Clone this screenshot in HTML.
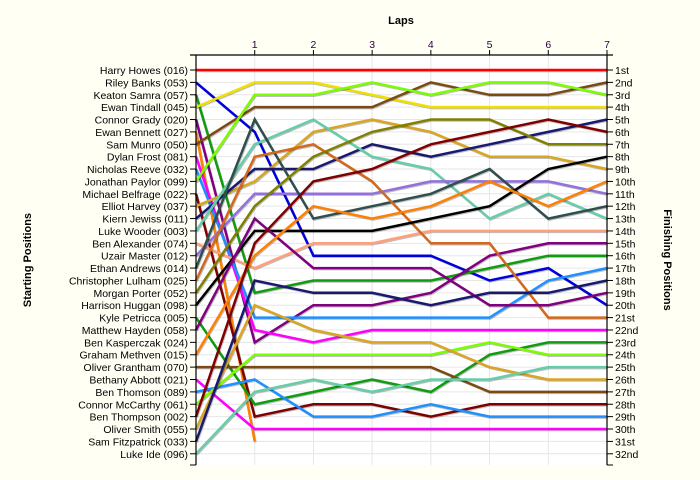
<!DOCTYPE html>
<html><head><meta charset="utf-8"><style>
html,body{margin:0;padding:0;background:#fffff4;}
svg{display:block;font-family:"Liberation Sans",sans-serif;}
</style></head><body>
<svg id="chart" width="700" height="480" viewBox="0 0 700 480" xmlns="http://www.w3.org/2000/svg">
<rect x="0" y="0" width="700" height="480" fill="#fffff4"/>
<rect x="196" y="55" width="411" height="410" fill="#ffffff"/>
<g id="grid"></g>
<g id="lines"></g>
<g id="axes"></g>
<text x="401" y="24" text-anchor="middle" font-size="11" font-weight="bold" fill="#000">Laps</text>
<text transform="translate(31,260) rotate(-90)" text-anchor="middle" font-size="11" font-weight="bold" fill="#000">Starting Positions</text>
<text transform="translate(664,260) rotate(90)" text-anchor="middle" font-size="11" font-weight="bold" fill="#000">Finishing Positions</text>
</svg>
<script>
const drivers = ["Harry Howes (016)","Riley Banks (053)","Keaton Samra (057)","Ewan Tindall (045)","Connor Grady (020)","Ewan Bennett (027)","Sam Munro (050)","Dylan Frost (081)","Nicholas Reeve (032)","Jonathan Paylor (099)","Michael Belfrage (022)","Elliot Harvey (037)","Kiern Jewiss (011)","Luke Wooder (003)","Ben Alexander (074)","Uzair Master (012)","Ethan Andrews (014)","Christopher Lulham (025)","Morgan Porter (052)","Harrison Huggan (098)","Kyle Petricca (005)","Matthew Hayden (058)","Ben Kasperczak (024)","Graham Methven (015)","Oliver Grantham (070)","Bethany Abbott (021)","Ben Thomson (089)","Connor McCarthy (061)","Ben Thompson (002)","Oliver Smith (055)","Sam Fitzpatrick (033)","Luke Ide (096)"];
const finishLabels = ["1st","2nd","3rd","4th","5th","6th","7th","8th","9th","10th","11th","12th","13th","14th","15th","16th","17th","18th","19th","20th","21st","22nd","23rd","24th","25th","26th","27th","28th","29th","30th","31st","32nd"];
const lapLabels = ["1","2","3","4","5","6","7"];
const colors = ["#ff0000","#0000dd","#109c10","#f0e000","#800080","#ff8000","#7b4a12","#ff00ff","#1e90ff","#7cfc00","#800000","#daa520","#191970","#66cdaa","#ffa07a","#9370db","#2f4f4f","#d2691e","#808000","#000000","#109c10","#800080","#800080","#ff8000","#7b4a12","#ff00ff","#1e90ff","#7cfc00","#800000","#daa520","#191970","#66cdaa"];
// positions per lap (lap 0 = start) for each driver, null = no data
const positions = [
[1,1,1,1,1,1,1,1],
[2,6,16,16,16,18,17,20],
[3,19,18,18,18,17,16,16],
[4,2,2,3,4,4,4,4],
[5,23,20,20,19,16,15,15],
[6,31],
[7,4,4,4,2,3,3,2],
[8,22,23,22,22,22,22,22],
[9,21,21,21,21,21,18,17],
[10,3,3,2,3,2,2,3],
[11,29,28,28,29,28,28,28],
[12,10,6,5,6,8,8,9],
[13,9,9,7,8,7,6,5],
[14,7,5,8,9,13,11,13],
[15,17,15,15,14,14,14,14],
[16,11,11,11,10,10,10,11],
[17,5,13,12,11,9,13,12],
[18,8,7,10,15,15,21,21],
[19,12,8,6,5,5,7,7],
[20,14,14,14,13,12,9,8],
[21,28,27,26,27,24,23,23],
[],
[22,13,17,17,17,20,20,19],
[24,16,12,13,12,10,12,10],
[25,25,25,25,25,27,27,27],
[26,30,30,30,30,30,30,30],
[27,26,29,29,28,29,29,29],
[28,24,24,24,24,23,24,24],
[29,15,10,9,7,6,5,6],
[30,20,22,23,23,25,26,26],
[31,18,19,19,20,19,19,18],
[32,27,26,27,26,26,25,25]
];
const NS="http://www.w3.org/2000/svg";
const x0=196,x1=607,yTop=70,rowH=12.38,nLaps=7;
function xScale(l){return x0+(x1-x0)*l/nLaps;}
function yScale(p){return yTop+(p-1)*rowH;}
function mk(tag,attrs,parent){const e=document.createElementNS(NS,tag);for(const k in attrs)e.setAttribute(k,attrs[k]);parent.appendChild(e);return e;}
const grid=document.getElementById('grid'),lines=document.getElementById('lines'),axes=document.getElementById('axes');
for(let p=1;p<=finishLabels.length;p++){
  const gl=mk('line',{x1:x0,x2:x1,y1:yScale(p),y2:yScale(p),stroke:'#e6e6e6','stroke-width':1},grid);
  
  
}
for(let l=1;l<nLaps;l++){
  const gl=mk('line',{x1:xScale(l),x2:xScale(l),y1:55,y2:465,stroke:'#e6e6e6','stroke-width':1},grid);
  
  
}
positions.forEach((arr,i)=>{
  if(arr.length<2)return;
  const pts=arr.map((p,l)=>p==null?null:[xScale(l),yScale(p)]).filter(Boolean);
  const d=pts.map((q,k)=>(k?'L':'M')+q[0].toFixed(1)+' '+q[1].toFixed(1)).join(' ');
  const sh=mk('path',{d:d,fill:'none',stroke:'#000','stroke-opacity':0.25,'stroke-width':2.5,transform:'translate(0.8,1)','stroke-linejoin':'miter'},lines);
  
  
  const ln=mk('path',{d:d,fill:'none',stroke:colors[i],'stroke-width':2.5,'stroke-linejoin':'miter'},lines);
  
  
});
// axes
const al=mk('line',{x1:x0,x2:x0,y1:55,y2:465,stroke:'#000','stroke-width':1.2},axes);


const ar=mk('line',{x1:x1,x2:x1,y1:55,y2:465,stroke:'#000','stroke-width':1.2},axes);


const at=mk('line',{x1:x0-6,x2:x1+6,y1:55,y2:55,stroke:'#000','stroke-width':1.2},axes);


const ab=mk('line',{x1:x1,x2:x1+6,y1:465,y2:465,stroke:'#000','stroke-width':1},axes);


const ab2=mk('line',{x1:x0-6,x2:x0,y1:465,y2:465,stroke:'#000','stroke-width':1},axes);


drivers.forEach((n,i)=>{
  const y=yScale(i+1);
  const t=mk('line',{x1:x0-6,x2:x0,y1:y,y2:y,stroke:'#000','stroke-width':1},axes);
  
  
  const tx=mk('text',{x:x0-8,y:y+4,'text-anchor':'end','font-size':10.5,fill:'#000'},axes);
  tx.textContent=n;
  
  
});
finishLabels.forEach((n,i)=>{
  const y=yScale(i+1);
  const t=mk('line',{x1:x1,x2:x1+6,y1:y,y2:y,stroke:'#000','stroke-width':1},axes);
  
  
  const tx=mk('text',{x:x1+8,y:y+4,'font-size':10.5,fill:'#000'},axes);
  tx.textContent=n;
  
  
});
lapLabels.forEach((n,i)=>{
  const x=xScale(i+1);
  const t=mk('line',{x1:x,x2:x,y1:50,y2:55,stroke:'#000','stroke-width':1},axes);
  
  
  const tx=mk('text',{x:x,y:48,'text-anchor':'middle','font-size':10.5,fill:'#2a0040'},axes);
  tx.textContent=n;
  
  
});
</script>
</body></html>
